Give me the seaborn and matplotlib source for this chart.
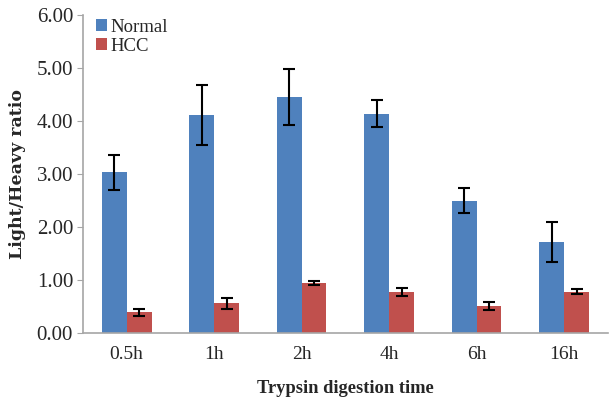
import numpy as np
import pandas as pd
import matplotlib
matplotlib.use("Agg")
import matplotlib.pyplot as plt
import seaborn as sns

# Data
times = ["0.5h", "1h", "2h", "4h", "6h", "16h"]
normal = [3.03, 4.12, 4.45, 4.14, 2.50, 1.72]
normal_err = [0.33, 0.57, 0.53, 0.26, 0.24, 0.37]
hcc = [0.39, 0.56, 0.95, 0.78, 0.51, 0.78]
hcc_err = [0.06, 0.10, 0.04, 0.08, 0.07, 0.05]
groups = ["Normal", "HCC"]
colors = ["#4F81BD", "#C0504D"]

df = pd.DataFrame({
    "time": times * 2,
    "ratio": normal + hcc,
    "group": ["Normal"] * len(times) + ["HCC"] * len(times),
})

sns.set_style("white")
plt.rcParams["font.family"] = ["Liberation Serif", "DejaVu Serif"]

fig = plt.figure(figsize=(6.09, 3.97), dpi=100)
ax = fig.add_axes([0.136, 0.161, 0.862, 0.801])

sns.barplot(data=df, x="time", y="ratio", hue="group", order=times,
            hue_order=groups, palette=colors, width=0.57, errorbar=None,
            linewidth=0, saturation=1, ax=ax)

# error bars on top of each bar, positioned from the drawn patches
errs = {"Normal": normal_err, "HCC": hcc_err}
for cont, g in zip(ax.containers, groups):
    xs = [p.get_x() + p.get_width() / 2 for p in cont]
    ys = [p.get_height() for p in cont]
    ax.errorbar(xs, ys, yerr=errs[g], fmt="none", ecolor="black",
                elinewidth=1.5, capsize=4.5, capthick=1.5, zorder=5)

ax.set_ylim(0, 6)
ax.set_yticks(np.arange(0, 6.01, 1))
ax.set_yticklabels([f"{v:.2f}" for v in np.arange(0, 6.01, 1)])
ax.set_xlim(-0.5, len(times) - 0.5)

for s in ["top", "right"]:
    ax.spines[s].set_visible(False)
for s in ["left", "bottom"]:
    ax.spines[s].set_color("#a6a6a6")
    ax.spines[s].set_linewidth(1.2)

ax.tick_params(axis="y", which="major", length=4, color="#a6a6a6",
               labelsize=15, pad=3, left=True)
ax.tick_params(axis="x", length=0, labelsize=14, pad=9)

ax.set_xlabel("Trypsin digestion time", fontsize=13.3, fontweight="bold",
              va="center")
ax.xaxis.set_label_coords(0.5, -0.173)
ax.set_ylabel("Light/Heavy ratio", fontsize=12.5, fontweight="bold",
              family="DejaVu Serif", va="center")
ax.yaxis.set_label_coords(-0.124, 0.5)

ax.legend(loc="upper left", bbox_to_anchor=(0.0, 1.03), frameon=False,
          fontsize=13.5, handlelength=0.6, handleheight=0.6,
          handletextpad=0.2, labelspacing=0.1, borderaxespad=0.3)

fig.savefig("out.png", dpi=100)
